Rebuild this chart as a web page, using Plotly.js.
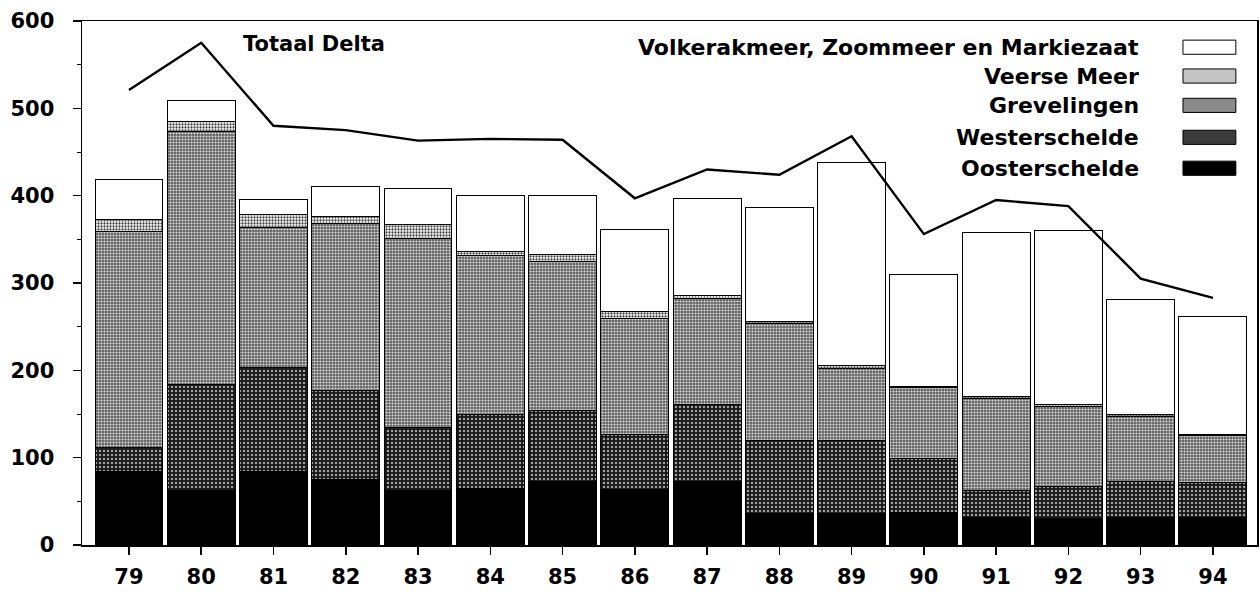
<!DOCTYPE html>
<html>
<head>
<meta charset="utf-8">
<script src="https://cdn.plot.ly/plotly-3.0.1.min.js"></script>
<style>html,body{margin:0;padding:0;background:#fff;}#chart{width:1260px;height:596px;}</style>
</head>
<body>
<div id="chart"></div>
<script>
// ---- data ----
const years = ['79','80','81','82','83','84','85','86','87','88','89','90','91','92','93','94'];
const oosterschelde = [84, 62, 84, 75, 62, 65, 73, 64, 73, 36, 36, 37, 32, 30, 32, 31];
const westerschelde = [28, 122, 119, 102, 73, 85, 81, 63, 88, 84, 84, 62, 30, 37, 41, 41];
const grevelingen   = [247, 289, 161, 191, 216, 181, 171, 132, 121, 134, 82, 81, 106, 92, 74, 53];
const veerseMeer    = [14, 12, 14, 8, 16, 5, 8, 8, 4, 2, 3, 2, 2, 2, 2, 2];
const volkerak      = [45, 24, 18, 34, 41, 64, 67, 94, 111, 130, 233, 128, 188, 199, 132, 135];
const totaalDelta   = [521, 575, 480, 475, 463, 465, 464, 397, 430, 424, 468, 356, 395, 388, 305, 283];
const seriesNames = ['Oosterschelde','Westerschelde','Grevelingen','Veerse Meer','Volkerakmeer, Zoommeer en Markiezaat'];
const yTicks = [0,100,200,300,400,500,600];

const FONT = 'DejaVu Sans, Liberation Sans, Arial, sans-serif';
const edge = {color:'#000', width:1};

function barTrace(name, vals, color, pattern){
  const m = {color: color, line: edge};
  if (pattern) m.pattern = pattern;
  return {type:'bar', name:name, x:years, y:vals, marker:m, showlegend:false, hoverinfo:'x+y+name'};
}

const traces = [
  barTrace(seriesNames[0], oosterschelde, '#000000'),
  barTrace(seriesNames[1], westerschelde, '#1a1a1a', {shape:'.', bgcolor:'#151515', fgcolor:'#a0a0a0', size:4, solidity:0.3, fillmode:'replace'}),
  barTrace(seriesNames[2], grevelingen, '#7a7a7a', {shape:'.', bgcolor:'#606060', fgcolor:'#dddddd', size:3, solidity:0.4, fillmode:'replace'}),
  barTrace(seriesNames[3], veerseMeer, '#c8c8c8', {shape:'.', bgcolor:'#ffffff', fgcolor:'#444444', size:3, solidity:0.45, fillmode:'replace'}),
  barTrace(seriesNames[4], volkerak, '#ffffff'),
  {type:'scatter', mode:'lines', name:'Totaal Delta', x:years, y:totaalDelta,
   line:{color:'#000', width:2.4}, showlegend:false}
];

// legend built from text + key boxes (text right-aligned, key at right as in the reference)
const legendRows = [
  {label: seriesNames[4], fill:'#ffffff', y:0.950},
  {label: seriesNames[3], fill:'#c4c4c4', y:0.895},
  {label: seriesNames[2], fill:'#8a8a8a', y:0.839},
  {label: seriesNames[1], fill:'#3c3c3c', y:0.778},
  {label: seriesNames[0], fill:'#000000', y:0.719}
];
const annotations = legendRows.map(r => ({
  xref:'paper', yref:'paper', x:0.901, y:r.y, xanchor:'right', yanchor:'middle',
  text:r.label, showarrow:false, font:{family:FONT, size:22, color:'#000', weight:700}
}));
annotations.push({xref:'paper', yref:'paper', x:0.135, y:0.957, xanchor:'left', yanchor:'middle',
  text:'<b>Totaal Delta</b>', showarrow:false, font:{family:FONT, size:21, color:'#000', weight:700}});
const shapes = legendRows.map(r => ({
  type:'rect', xref:'paper', yref:'paper', x0:0.937, x1:0.982, y0:r.y-0.0135, y1:r.y+0.0135,
  fillcolor:r.fill, line:{color:'#000', width:1}
}));

const layout = {
  width:1260, height:596,
  margin:{l:82, r:3, t:21, b:51, pad:0},
  paper_bgcolor:'#fff', plot_bgcolor:'#fff',
  barmode:'stack', bargap:0.06,
  font:{family:FONT, size:21, color:'#000'},
  xaxis:{type:'category', categoryorder:'array', categoryarray:years, range:[-0.65,15.61],
    showline:true, linecolor:'#000', linewidth:1.5, mirror:true,
    ticks:'outside', ticklen:8, tickwidth:1.5, tickcolor:'#000', ticklabelstandoff:4,
    showgrid:false, zeroline:false, tickfont:{family:FONT, size:21, weight:700}},
  yaxis:{range:[0,600], tickvals:yTicks, ticktext:yTicks.map(String),
    showline:true, linecolor:'#000', linewidth:1.5, mirror:true,
    ticks:'outside', ticklen:8, tickwidth:1.5, tickcolor:'#000', ticklabelstandoff:14,
    minor:{dtick:50, ticks:'outside', ticklen:4, tickcolor:'#000', tickwidth:1},
    showgrid:false, zeroline:false, tickfont:{family:FONT, size:21, weight:700}},
  showlegend:false,
  annotations:annotations,
  shapes:shapes
};

Plotly.newPlot('chart', traces, layout, {staticPlot:true, displayModeBar:false});
</script>
</body>
</html>
